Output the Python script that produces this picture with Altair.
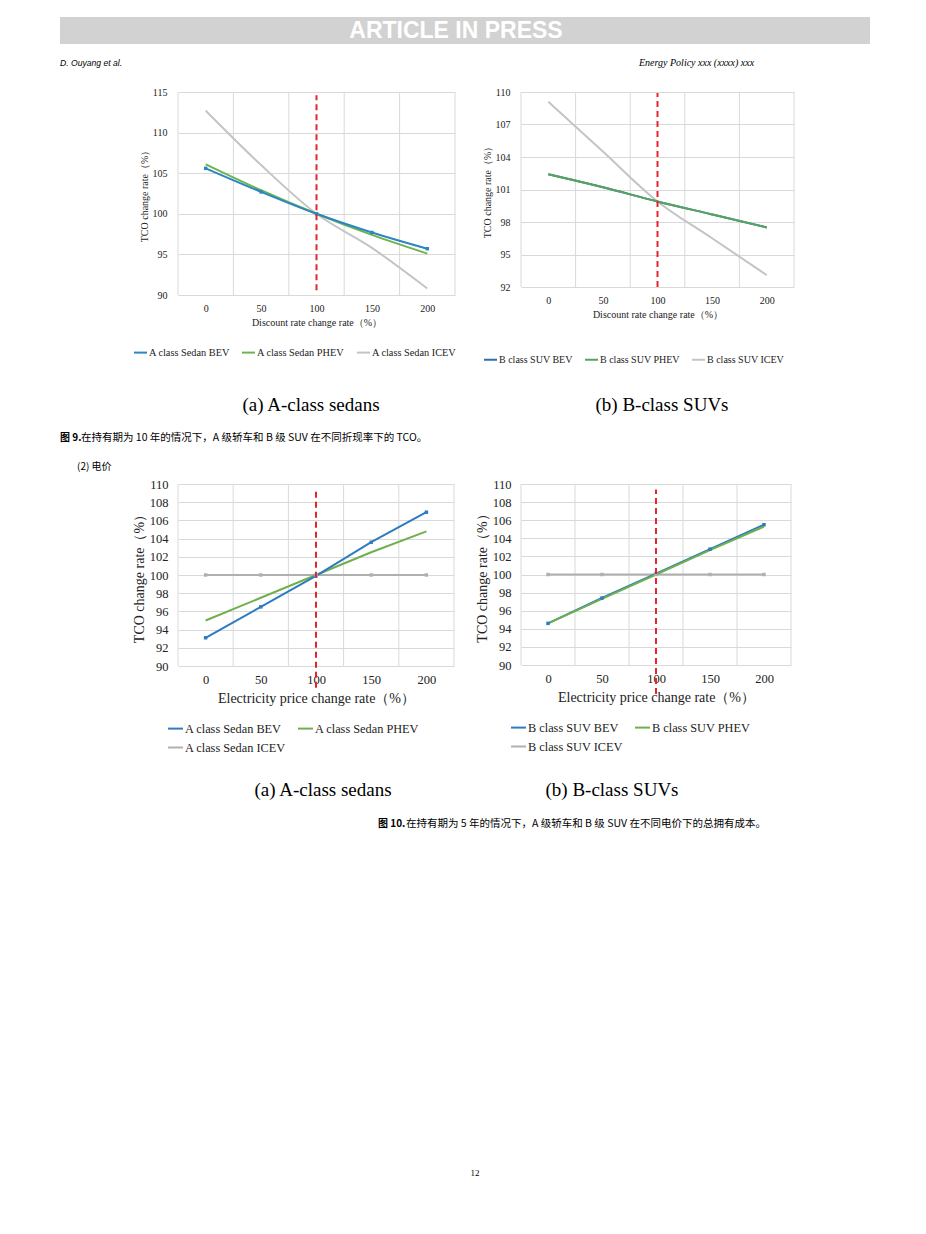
import altair as alt
import pandas as pd

SERIF = "Liberation Serif"
SANS = "Liberation Sans"
CJK = "Noto Sans CJK SC"
RED = "#e3262b"
GRID = "#d9d9d9"

# ---------------- data ----------------
x_vals = [0, 50, 100, 150, 200]
x_grid = [-25, 25, 75, 125, 175, 225]

a_disc_names = ["A class Sedan BEV", "A class Sedan PHEV", "A class Sedan ICEV"]
a_disc_bev = [105.6, 102.7, 100.0, 97.7, 95.7]
a_disc_phev = [106.1, 102.9, 100.0, 97.4, 95.1]
a_disc_icev = [112.7, 106.0, 100.0, 95.8, 90.8]

b_disc_names = ["B class SUV BEV", "B class SUV PHEV", "B class SUV ICEV"]
b_disc_bev = [102.4, 101.2, 99.9, 98.7, 97.5]
b_disc_phev = [102.4, 101.2, 99.9, 98.7, 97.5]
b_disc_icev = [109.1, 104.5, 99.9, 96.5, 93.1]

a_elec_names = ["A class Sedan BEV", "A class Sedan PHEV", "A class Sedan ICEV"]
a_elec_bev = [93.1, 96.5, 99.9, 103.6, 106.9]
a_elec_phev = [95.0, 97.5, 100.0, 102.5, 104.8]
a_elec_icev = [100.0, 100.0, 100.0, 100.0, 100.0]

b_elec_names = ["B class SUV BEV", "B class SUV PHEV", "B class SUV ICEV"]
b_elec_bev = [94.6, 97.4, 100.1, 102.8, 105.5]
b_elec_phev = [94.6, 97.3, 100.0, 102.7, 105.3]
b_elec_icev = [100.0, 100.0, 100.0, 100.0, 100.0]

y_ticks_a_disc = [90, 95, 100, 105, 110, 115]
y_ticks_b_disc = [92, 95, 98, 101, 104, 107, 110]
y_ticks_elec = [90, 92, 94, 96, 98, 100, 102, 104, 106, 108, 110]


def long_df(names, series):
    rows = []
    for n, vals in zip(names, series):
        for x, v in zip(x_vals, vals):
            rows.append({"x": x, "v": v, "s": n})
    return pd.DataFrame(rows)


def panel(names, series, colors, ydom, yvals, w, h, red_y, xtitle,
          lab_fs, ttl_fs, lab_pad_y, lab_pad_x, ttl_pad_y, ttl_pad_x,
          interp, marker_series, marker_size, leg, draw_order):
    df = long_df(names, series)
    xs = alt.Scale(domain=[-25, 225], nice=False, zero=False)
    ys = alt.Scale(domain=ydom, nice=False, zero=False)
    xax = alt.Axis(values=x_vals, grid=False, ticks=False, domain=False, format="d",
                   labelFont=SERIF, labelFontSize=lab_fs, labelColor="#222",
                   labelPadding=lab_pad_x, title=xtitle, titleFont=SERIF,
                   titleFontSize=ttl_fs, titleFontWeight="normal", titleColor="#222",
                   titlePadding=ttl_pad_x)
    yax = alt.Axis(values=yvals, grid=True, gridColor=GRID, gridWidth=1, ticks=False,
                   domain=False, format="d", labelFont=SERIF, labelFontSize=lab_fs,
                   labelColor="#222", labelPadding=lab_pad_y,
                   title="TCO change rate（%）", titleFont=SERIF, titleFontSize=ttl_fs,
                   titleFontWeight="normal", titleColor="#222", titlePadding=ttl_pad_y)
    X = alt.X("x:Q", scale=xs, axis=xax)
    Y = alt.Y("v:Q", scale=ys, axis=yax)
    color = alt.Color("s:N", scale=alt.Scale(domain=names, range=colors),
                      legend=alt.Legend(**leg))
    layers = [alt.Chart(pd.DataFrame({"x": x_grid}))
              .mark_rule(color=GRID, strokeWidth=1).encode(x=X)]
    for i in draw_order:
        n = names[i]
        layers.append(alt.Chart(df[df.s == n])
                      .mark_line(interpolate=interp, strokeWidth=2)
                      .encode(x=X, y=Y, color=color))
    if marker_series:
        layers.append(alt.Chart(df[df.s.isin(marker_series)])
                      .mark_point(filled=True, shape="square", size=marker_size, opacity=1)
                      .encode(x=X, y=Y, color=color))
    layers.append(alt.Chart(pd.DataFrame({"x": [100], "y": [red_y[0]], "y2": [red_y[1]]}))
                  .mark_rule(color=RED, strokeDash=[6, 4], strokeWidth=2)
                  .encode(x=X, y=alt.Y("y:Q", scale=ys, axis=yax), y2="y2:Q"))
    return alt.layer(*layers).properties(width=w, height=h)


def leg_cfg(x, y, cols, fs, ssize, colpad, rowpad=4):
    return dict(orient="none", legendX=x, legendY=y, direction="horizontal",
                columns=cols, symbolType="stroke", symbolSize=ssize,
                symbolStrokeWidth=2, labelFont=SERIF, labelFontSize=fs,
                labelColor="#222", labelOffset=1, columnPadding=colpad,
                rowPadding=rowpad, title=None, padding=0)


def txt(s, x, y, size, font=SANS, weight="normal", style="normal", color="#000",
        align="left"):
    return (alt.Chart(pd.DataFrame({"t": [s]}))
            .mark_text(align=align, baseline="middle", font=font, fontSize=size,
                       fontWeight=weight, fontStyle=style, color=color)
            .encode(x=alt.value(x), y=alt.value(y), text="t:N"))


# ---------------- panels ----------------
A1 = panel(a_disc_names, [a_disc_bev, a_disc_phev, a_disc_icev],
           ["#2b86c2", "#6db34f", "#c4c4c4"], [90, 115], y_ticks_a_disc, 277, 203,
           (90.6, 114.6), "Discount rate change rate（%）",
           10, 10, 11, 8, 3, 4, "monotone", [a_disc_names[0]], 12,
           leg_cfg(-45, 253, 3, 10.3, 169, 8), [2, 1, 0])

B1 = panel(b_disc_names, [b_disc_bev, b_disc_phev, b_disc_icev],
           ["#2e6fae", "#58a45c", "#c4c4c4"], [92, 110], y_ticks_b_disc, 273, 195,
           (92.0, 109.9), "Discount rate change rate（%）",
           10, 10, 11, 8, 3, 4, "monotone", [], 10,
           leg_cfg(-38, 260, 3, 10, 169, 8), [2, 0, 1])

A2 = panel(a_elec_names, [a_elec_bev, a_elec_phev, a_elec_icev],
           ["#2e7bc0", "#70b04c", "#b0b0b0"], [90, 110], y_ticks_elec, 276, 182,
           (87.6, 109.6), "Electricity price change rate（%）",
           12.5, 14, 10, 7, 3, 6, "linear", [a_elec_names[0], a_elec_names[2]], 12,
           leg_cfg(-11, 236, 2, 12.3, 225, 8, 4), [2, 1, 0])

B2 = panel(b_elec_names, [b_elec_bev, b_elec_phev, b_elec_icev],
           ["#2e7bc0", "#70b04c", "#b0b0b0"], [90, 110], y_ticks_elec, 270, 181,
           (86.8, 109.4), "Electricity price change rate（%）",
           12.5, 14, 10, 7, 3, 6, "linear", [b_elec_names[0], b_elec_names[2]], 12,
           leg_cfg(-11, 235, 2, 12.3, 225, 8, 4), [2, 0, 1])

# ---------------- page text cells ----------------
band = (alt.Chart(pd.DataFrame({"t": [""]})).mark_rect(color="#d2d2d2")
        .encode(x=alt.value(-118), x2=alt.value(692), y=alt.value(0), y2=alt.value(27)))

hdr1 = alt.layer(
    band,
    txt("ARTICLE IN PRESS", 278, 14, 23, weight="bold", color="#ffffff", align="center"),
    txt("D. Ouyang et al.", -118, 46, 8.6, style="italic"),
).properties(width=277, height=75)

hdr2 = alt.layer(
    txt("Energy Policy xxx (xxxx) xxx", 118, 46, 10, font=SERIF, style="italic"),
).properties(width=273, height=75)

mid1 = alt.layer(
    txt("(a) A-class sedans", 133, 110, 19, font=SERIF, align="center"),
    txt("图 9.", -118, 143, 10, font=CJK, weight="bold"),
    txt("在持有期为 10 年的情况下，A 级轿车和 B 级 SUV 在不同折现率下的 TCO。", -97, 143, 10.5, font=CJK),
    txt("(2)  电价", -101, 172, 10, font=CJK),
).properties(width=277, height=189)

mid2 = alt.layer(
    txt("(b) B-class SUVs", 141, 110, 19, font=SERIF, align="center"),
).properties(width=273, height=189)

foot1 = alt.layer(
    txt("(a) A-class sedans", 145, 124, 19, font=SERIF, align="center"),
    txt("12", 297, 507, 9, font=SERIF, align="center"),
).properties(width=277, height=520)

foot2 = alt.layer(
    txt("(b) B-class SUVs", 91, 124, 19, font=SERIF, align="center"),
    txt("图 10.", -143, 158, 10, font=CJK, weight="bold"),
    txt("在持有期为 5 年的情况下，A 级轿车和 B 级 SUV 在不同电价下的总拥有成本。", -115, 158, 10.5, font=CJK),
).properties(width=273, height=520)

chart = alt.concat(
    hdr1, hdr2, A1, B1, mid1, mid2, A2, B2, foot1, foot2,
    columns=2, spacing={"row": 0, "column": 66}, bounds="flush",
).properties(
    padding={"left": 52, "top": 9, "right": 4, "bottom": 4}
).configure_view(strokeWidth=0).resolve_scale(color="independent")

chart.save("out.html", embed_options={"renderer": "svg", "actions": False})
